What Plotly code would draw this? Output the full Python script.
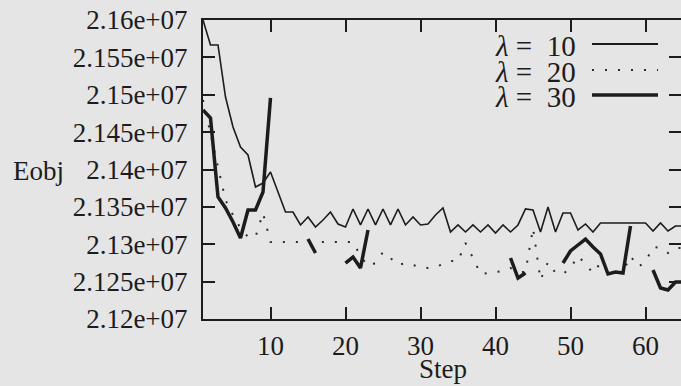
import plotly.graph_objects as go

steps = list(range(1, 66))

eobj_l10 = [21600000, 21566600, 21566600, 21497000, 21456900, 21430100, 21419400, 21376600, 21381900, 21396700,
            21369900, 21343100, 21343100, 21325800, 21336500, 21323100, 21332400, 21343100, 21327100, 21323100,
            21347200, 21325800, 21347200, 21325800, 21347200, 21325800, 21347200, 21325800, 21336500, 21325800,
            21327100, 21339100, 21348500, 21316400, 21325800, 21316400, 21325800, 21316400, 21325800, 21315100,
            21325800, 21316400, 21325800, 21347200, 21345800, 21316400, 21349800, 21316400, 21341800, 21341800,
            21319100, 21327100, 21316400, 21328400, 21328400, 21328400, 21328400, 21328400, 21328400, 21328400,
            21317700, 21328400, 21317700, 21324400, 21324400]

eobj_l20 = [21493000, 21446200, 21403300, 21359200, 21339100, 21321700, 21309700, 21309700, 21341800, 21303000,
            21303000, 21303000, 21303000, 21303000, 21303000, 21303000, 21303000, 21303000, 21303000, 21303000,
            21303000, 21284300, 21270900, 21274900, 21289600, 21281600, 21272200, 21274900, 21272200, 21269600,
            21268200, 21269600, 21273600, 21277600, 21277600, 21301700, 21281600, 21260200, 21261500, 21262900,
            21264200, 21268200, 21262900, 21262900, 21321700, 21252200, 21276300, 21261500, 21260200, 21268200,
            21284300, 21273600, 21261500, 21274900, 21262900, 21262900, 21262900, 21284300, 21269600, 21276300,
            21296300, 21295000, 21288300, 21295000, 21295000]

eobj_l30 = [21479600, 21468900, 21363200, 21348500, 21329800, 21308400, 21345800, 21345800, 21369900, 21495700,
            None, None, None, None, 21307000, 21288300, None, None, None, 21274900,
            21282900, 21268200, 21319100, None, None, None, None, None, None, None,
            None, None, None, None, None, None, None, None, None, None,
            None, 21281600, 21254800, 21261500, None, None, None, None, 21274900, 21291000,
            21299000, 21307000, 21296300, 21287000, 21260200, 21262900, 21261500, 21324400, None, None,
            21265600, 21241500, 21238800, 21249500, 21249500]

y_ticks = [21200000, 21250000, 21300000, 21350000, 21400000, 21450000, 21500000, 21550000, 21600000]
y_tick_labels = ["2.12e+07", "2.125e+07", "2.13e+07", "2.135e+07", "2.14e+07",
                 "2.145e+07", "2.15e+07", "2.155e+07", "2.16e+07"]
x_ticks = [10, 20, 30, 40, 50, 60]
series_names = ["λ = 10", "λ = 20", "λ = 30"]

FONT = "Liberation Serif"
INK = "#1c1c1c"
BG = "#e5e5e5"

W, H = 681, 386
L, R, T, B = 203, 681, 20, 319          # plot frame in window pixels


def px(x):
    return (x - L) / (R - L)


def py(y):
    return (B - y) / (B - T)


dot_style = dict(color="#2a2a2a", width=2, dash="2px,11px")

fig = go.Figure()
fig.add_trace(go.Scatter(x=steps, y=eobj_l10, mode="lines", name=series_names[0],
                         line=dict(color=INK, width=1.6), showlegend=False))
fig.add_trace(go.Scatter(x=steps, y=eobj_l20, mode="lines", name=series_names[1],
                         line=dot_style, showlegend=False))
fig.add_trace(go.Scatter(x=steps, y=eobj_l30, mode="lines", name=series_names[2],
                         line=dict(color=INK, width=3.5), connectgaps=False, showlegend=False))
# invisible trace carrying the right-hand ticks
fig.add_trace(go.Scatter(x=[None], y=[None], yaxis="y2", showlegend=False, hoverinfo="skip"))

# legend (text on the left, sample on the right, as in the reference)
leg_rows = [46, 72, 97]
leg_styles = [dict(color=INK, width=1.8), dot_style, dict(color=INK, width=3.5)]
for name, yy, st in zip(series_names, leg_rows, leg_styles):
    lam, rest = name.split(" ", 1)
    fig.add_annotation(x=px(578), y=py(yy), xref="paper", yref="paper",
                       text="<i>" + lam + "</i> " + rest.replace(" ", "  "),
                       showarrow=False, xanchor="right", yanchor="middle",
                       font=dict(family=FONT, size=29, color=INK))
    fig.add_shape(type="line", xref="paper", yref="paper",
                  x0=px(592), x1=px(658), y0=py(yy - 2), y1=py(yy - 2), line=st)

fig.add_annotation(x=px(443), y=py(369), xref="paper", yref="paper", text="Step",
                   showarrow=False, xanchor="center", yanchor="middle",
                   font=dict(family=FONT, size=27, color=INK))
fig.add_annotation(x=px(38), y=py(171), xref="paper", yref="paper", text="Eobj",
                   showarrow=False, xanchor="center", yanchor="middle",
                   font=dict(family=FONT, size=27, color=INK))

fig.update_layout(
    width=W, height=H,
    margin=dict(l=L, r=W - R, t=T, b=H - B),
    paper_bgcolor=BG, plot_bgcolor=BG,
    font=dict(family=FONT, size=27, color=INK),
    xaxis=dict(range=[1, 1 + (R - L) / 7.5], tickvals=x_ticks, ticks="inside", ticklen=12,
               tickwidth=2, tickcolor=INK, showline=True, linecolor=INK, linewidth=2,
               mirror="ticks", showgrid=False, zeroline=False, ticklabelstandoff=2,
               tickfont=dict(family=FONT, size=27, color=INK)),
    yaxis=dict(range=[21200000, 21600000], tickvals=y_ticks, ticktext=y_tick_labels,
               ticks="inside", ticklen=12, tickwidth=2, tickcolor=INK, showline=True,
               linecolor=INK, linewidth=2, showgrid=False, zeroline=False,
               ticklabelstandoff=8, ticklabeloverflow="allow",
               tickfont=dict(family=FONT, size=27, color=INK)),
    yaxis2=dict(range=[21200000, 21600000], tickvals=y_ticks, overlaying="y", side="right",
                anchor="x", ticks="inside", ticklen=12, tickwidth=2, tickcolor=INK,
                showticklabels=False, showline=False, showgrid=False, zeroline=False),
)

fig.write_html(
    "out.html",
    config={"displayModeBar": False},
    post_script="document.body.style.margin='0';document.body.style.background='%s';"
                "document.body.style.overflow='hidden';" % BG,
)
